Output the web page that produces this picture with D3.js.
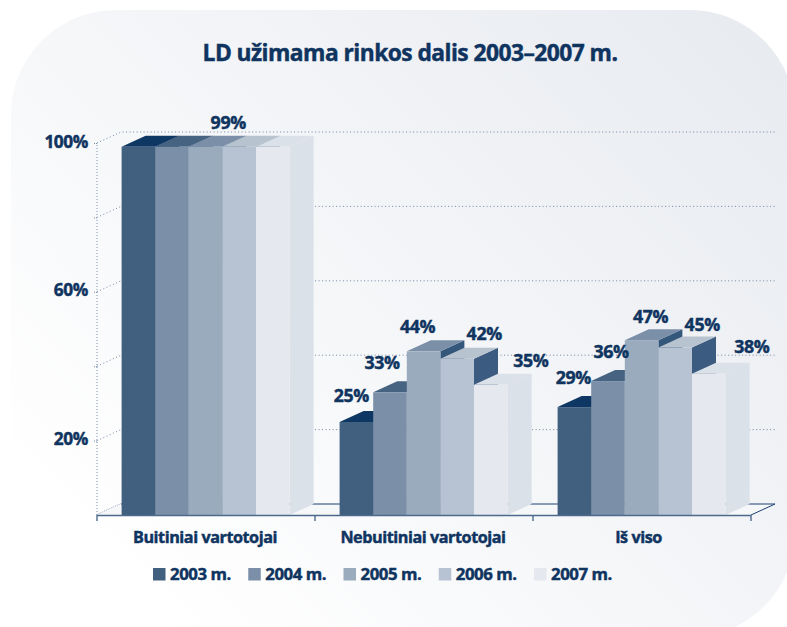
<!DOCTYPE html>
<html><head><meta charset="utf-8">
<script src="https://cdn.jsdelivr.net/npm/d3@7/dist/d3.min.js"></script>
<style>
html,body{margin:0;padding:0;background:#fff}
svg{display:block}
text{font-family:"Open Sans",sans-serif;font-weight:700;fill:#0f3460;stroke:#0f3460;stroke-width:0.45px}
</style></head><body>
<svg id="c" width="787" height="627"></svg>
<script>
const titleText = "LD užimama rinkos dalis 2003–2007 m.";
const categories = ["Buitiniai vartotojai","Nebuitiniai vartotojai","Iš viso"];
const years = ["2003 m.","2004 m.","2005 m.","2006 m.","2007 m."];
const values2003 = [99,25,29];
const values2004 = [99,33,36];
const values2005 = [99,44,47];
const values2006 = [99,42,45];
const values2007 = [99,35,38];
const series = [values2003,values2004,values2005,values2006,values2007];
const yTicks = [20,40,60,80,100];
const yTickLabels = {20:"20%",60:"60%",100:"100%"};
const frontColors = ["#41607f","#7b90a8","#9aabbd","#b7c3d2","#e5e8ee"];
const topColors = ["#0f3763","#466482","#7b90a8","#b8c3d0","#dbe1e9"];
const sideColors = ["#0f3763","#466482","#34577c","#3c5b80","#dbe1e9"];
// label nudges per category, per series (the original places them by hand)
const labelDx = [[0,0,0,-11,0],[-5,-8,-6,27,40],[-1,3,9,27,43]];
const labelDy = [[0,0,0,-24,0],[-26,-29,-25,-25,-24],[-29,-29,-23,-23,-27]];
const categoryLabelDx = [-1,-1,-3.5];

const depthX = 24, depthY = -11;
const svg = d3.select("#c");
const y = d3.scaleLinear().domain([0,100]).range([515,143]);
const x0 = d3.scaleBand().domain(categories).range([97,751]);
const x1 = d3.scaleBand().domain(d3.range(5)).range([24.6,192.6]);

const defs = svg.append("defs");
const grad = defs.append("linearGradient").attr("id","bg")
  .attr("x1","0%").attr("y1","90%").attr("x2","100%").attr("y2","10%");
grad.append("stop").attr("offset","8%").attr("stop-color","#ffffff");
grad.append("stop").attr("offset","100%").attr("stop-color","#e8ebf0");
svg.append("rect").attr("x",11).attr("y",10).attr("width",784).attr("height",627)
  .attr("rx",105).attr("ry",105).attr("fill","url(#bg)");

svg.append("text").attr("x",410).attr("y",61).attr("text-anchor","middle")
  .attr("font-size",22.8).attr("letter-spacing",-0.55).text(titleText);

// walls and grid
const grid = svg.append("g").attr("fill","none").attr("stroke","#7488a6").attr("stroke-width",1).attr("stroke-dasharray","1 2.5");
yTicks.forEach(t=>{
  grid.append("path").attr("d",d3.line()([[97,y(t)],[97+depthX,y(t)+depthY],[751+depthX,y(t)+depthY]]));
});
grid.append("path").attr("d",d3.line()([[97,y(0)],[97,y(100)]])).attr("stroke","#bcc6d6").attr("stroke-width",2).attr("stroke-dasharray","1 2");
grid.append("path").attr("d",d3.line()([[97,y(0)],[97+depthX,y(0)+depthY]])).attr("stroke","#a3b0c4").attr("stroke-width",2).attr("stroke-dasharray","1 1");

// floor
svg.append("polygon").attr("points",[[97,515],[121,504],[775,504],[751,515]].join(" ")).attr("fill","#f6f7f9");
svg.append("path").attr("d",d3.line()([[121,504],[775,504],[751,515]])).attr("fill","none").attr("stroke","#1b4170").attr("stroke-width",1);

// y axis labels
const yAxis = d3.axisLeft(y).tickValues(yTicks).tickSize(4).tickFormat(d=>yTickLabels[d]||"");
const ag = svg.append("g").attr("transform","translate(97,0)").call(yAxis);
ag.select(".domain").remove();
ag.selectAll("line").attr("stroke","#7488a6").attr("stroke-dasharray","1 1");
ag.selectAll("text").attr("x",-9).attr("y",-2).attr("dy","0.35em").attr("font-size",17.3).attr("letter-spacing",-0.4)
  .attr("font-family",'"Open Sans",sans-serif').style("fill","#0f3460");

// bars
categories.forEach((cat,ci)=>{
  const g = svg.append("g");
  series.forEach((vals,si)=>{
    const v = vals[ci], xl = x0(cat)+x1(si), w = x1.bandwidth(), yt = y(v), yb = y(0);
    g.append("polygon").attr("fill",sideColors[si])
      .attr("points",[[xl+w,yt],[xl+w+depthX,yt+depthY],[xl+w+depthX,yb+depthY],[xl+w,yb]].join(" "));
    g.append("polygon").attr("fill",topColors[si])
      .attr("points",[[xl,yt],[xl+depthX,yt+depthY],[xl+w+depthX,yt+depthY],[xl+w,yt]].join(" "));
    g.append("rect").attr("x",xl).attr("y",yt).attr("width",w).attr("height",yb-yt).attr("fill",frontColors[si]);
  });
});
// labels
categories.forEach((cat,ci)=>{
  series.forEach((vals,si)=>{
    if(ci===0 && si!==3) return;
    const xl = x0(cat)+x1(si)+x1.bandwidth()/2;
    svg.append("text").attr("x",xl+labelDx[ci][si]).attr("y",y(vals[ci])+labelDy[ci][si]).attr("dy","0.35em")
      .attr("text-anchor","middle").attr("font-size",17.8).attr("letter-spacing",-0.4).text(vals[ci]+"%");
  });
});

// x axis
svg.append("line").attr("x1",97).attr("x2",751).attr("y1",515.5).attr("y2",515.5).attr("stroke","#4d6a8c").attr("stroke-width",1.6);
[...categories.map(c=>x0(c)),751].forEach(px=>{
  svg.append("line").attr("x1",px).attr("x2",px).attr("y1",515).attr("y2",521).attr("stroke","#4d6a8c").attr("stroke-width",1.4);
});
categories.forEach((c,i)=>{
  svg.append("text").attr("x",x0(c)+x0.bandwidth()/2+categoryLabelDx[i]).attr("y",537).attr("dy","0.35em").attr("text-anchor","middle")
    .attr("font-size",16.2).attr("letter-spacing",-0.45).text(c);
});

// legend
const legendX = d3.scalePoint().domain(years).range([153,534]);
years.forEach((yr,i)=>{
  const lx = legendX(yr);
  svg.append("rect").attr("x",lx).attr("y",568).attr("width",12.5).attr("height",12.5).attr("fill",frontColors[i]);
  svg.append("text").attr("x",lx+17).attr("y",574.5).attr("dy","0.35em").attr("font-size",16.8).attr("letter-spacing",-0.45).text(yr);
});
</script></body></html>
